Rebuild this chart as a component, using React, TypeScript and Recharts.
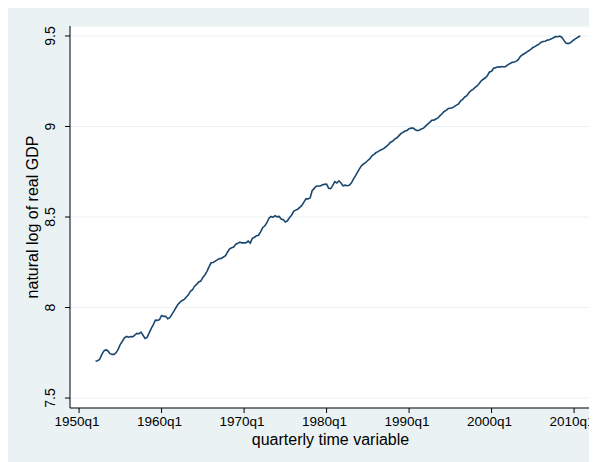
import React from 'react';
import { LineChart, Line, XAxis, YAxis, CartesianGrid } from 'recharts';

// first observation of the series (Stata %tq: 1960q1 = 0)
const firstYear = 1952;
const firstQuarter = 1;

const lnGdp: number[] = [
    7.704, 7.706, 7.714, 7.740, // 1952
    7.760, 7.767, 7.760, 7.745, // 1953
    7.741, 7.741, 7.751, 7.770, // 1954
    7.797, 7.814, 7.832, 7.840, // 1955
    7.836, 7.840, 7.838, 7.848, // 1956
    7.857, 7.855, 7.864, 7.847, // 1957
    7.829, 7.835, 7.860, 7.885, // 1958
    7.906, 7.930, 7.929, 7.933, // 1959
    7.956, 7.951, 7.952, 7.938, // 1960
    7.944, 7.962, 7.980, 8.000, // 1961
    8.018, 8.030, 8.039, 8.045, // 1962
    8.058, 8.070, 8.090, 8.098, // 1963
    8.118, 8.128, 8.141, 8.146, // 1964
    8.166, 8.180, 8.200, 8.224, // 1965
    8.247, 8.249, 8.256, 8.263, // 1966
    8.270, 8.271, 8.279, 8.286, // 1967
    8.307, 8.324, 8.330, 8.334, // 1968
    8.350, 8.355, 8.361, 8.357, // 1969
    8.357, 8.358, 8.367, 8.356, // 1970
    8.382, 8.388, 8.396, 8.399, // 1971
    8.418, 8.441, 8.450, 8.467, // 1972
    8.492, 8.503, 8.498, 8.507, // 1973
    8.501, 8.503, 8.489, 8.485, // 1974
    8.472, 8.479, 8.496, 8.509, // 1975
    8.531, 8.538, 8.543, 8.553, // 1976
    8.564, 8.582, 8.600, 8.600, // 1977
    8.605, 8.645, 8.658, 8.670, // 1978
    8.671, 8.671, 8.678, 8.680, // 1979
    8.682, 8.659, 8.657, 8.675, // 1980
    8.695, 8.688, 8.700, 8.688, // 1981
    8.672, 8.676, 8.673, 8.675, // 1982
    8.687, 8.709, 8.727, 8.748, // 1983
    8.767, 8.784, 8.793, 8.802, // 1984
    8.812, 8.822, 8.838, 8.846, // 1985
    8.856, 8.861, 8.869, 8.874, // 1986
    8.880, 8.890, 8.900, 8.913, // 1987
    8.918, 8.930, 8.936, 8.948, // 1988
    8.960, 8.967, 8.975, 8.978, // 1989
    8.988, 8.991, 8.991, 8.982, // 1990
    8.977, 8.981, 8.986, 8.991, // 1991
    9.002, 9.013, 9.023, 9.034, // 1992
    9.035, 9.041, 9.047, 9.060, // 1993
    9.070, 9.083, 9.089, 9.099, // 1994
    9.101, 9.103, 9.111, 9.118, // 1995
    9.125, 9.142, 9.150, 9.163, // 1996
    9.170, 9.186, 9.198, 9.205, // 1997
    9.216, 9.224, 9.237, 9.252, // 1998
    9.261, 9.269, 9.282, 9.301, // 1999
    9.305, 9.322, 9.325, 9.330, // 2000
    9.328, 9.331, 9.329, 9.333, // 2001
    9.342, 9.348, 9.354, 9.356, // 2002
    9.361, 9.370, 9.388, 9.396, // 2003
    9.403, 9.411, 9.418, 9.426, // 2004
    9.436, 9.441, 9.449, 9.455, // 2005
    9.466, 9.469, 9.471, 9.477, // 2006
    9.479, 9.484, 9.490, 9.497, // 2007
    9.496, 9.499, 9.493, 9.477, // 2008
    9.461, 9.458, 9.461, 9.470, // 2009
    9.480, 9.487, 9.494, 9.500, // 2010
];

const yTicks = [7.5, 8, 8.5, 9, 9.5];
const xTickLabels = ['1950q1', '1960q1', '1970q1', '1980q1', '1990q1', '2000q1', '2010q1'];

const toTq = (year: number, q: number) => (year - 1960) * 4 + (q - 1);
const xTicks = xTickLabels.map((s) => toTq(Number(s.slice(0, 4)), Number(s.slice(5))));
const tqLabel = (t: number) => `${1960 + Math.floor(t / 4)}q${(((t % 4) + 4) % 4) + 1}`;

const data = lnGdp.map((v, i) => ({ t: toTq(firstYear, firstQuarter) + i, lngdp: v }));

const FONT = 'Liberation Sans, Arial, sans-serif';
const BG = '#eaf2f3';

const XTick = (props: any) => {
    const { x, y, payload } = props;
    return (
        <text x={x - 2} y={y + 10} textAnchor="middle" fontSize={13.5} fontFamily={FONT} fill="#000">
            {tqLabel(payload.value)}
        </text>
    );
};

const YTick = (props: any) => {
    const { x, y, payload } = props;
    const tx = x - 8;
    return (
        <text x={tx} y={y} transform={`rotate(-90, ${tx}, ${y})`} textAnchor="middle"
            fontSize={14} fontFamily={FONT} fill="#000">
            {String(payload.value)}
        </text>
    );
};

const YTitle = (props: any) => {
    const { viewBox } = props;
    const cx = 30;
    const cy = viewBox.y + viewBox.height / 2;
    return (
        <text x={cx} y={cy} transform={`rotate(-90, ${cx}, ${cy})`} textAnchor="middle"
            fontSize={16} fontFamily={FONT} fill="#000">
            natural log of real GDP
        </text>
    );
};

export default function App() {
    return (
        <div style={{ width: 589, height: 454, background: BG }}>
            <style>{'html,body{overflow:hidden}.recharts-surface{overflow:visible}'}</style>
            <LineChart width={589} height={454} data={data}
                margin={{ top: 18, right: 6, left: 0, bottom: 0 }}>
                <CartesianGrid fill="#fff" stroke={BG} strokeWidth={1} vertical={false} />
                <XAxis
                    type="number"
                    dataKey="t"
                    domain={[-44.4, 208.2]}
                    ticks={xTicks}
                    allowDataOverflow
                    height={54}
                    stroke="#000"
                    tickSize={5}
                    tickMargin={3}
                    interval={0}
                    tick={<XTick />}
                    label={{ value: 'quarterly time variable', position: 'insideBottom', offset: 17, fill: '#000', fontSize: 16, fontFamily: FONT }}
                />
                <YAxis
                    type="number"
                    domain={[7.445, 9.555]}
                    ticks={yTicks}
                    allowDataOverflow
                    width={62}
                    stroke="#000"
                    tickSize={5}
                    tick={<YTick />}
                    label={{ content: <YTitle /> }}
                />
                <Line
                    type="linear"
                    dataKey="lngdp"
                    stroke="#1a476f"
                    strokeWidth={1.6}
                    dot={false}
                    isAnimationActive={false}
                />
            </LineChart>
        </div>
    );
}
